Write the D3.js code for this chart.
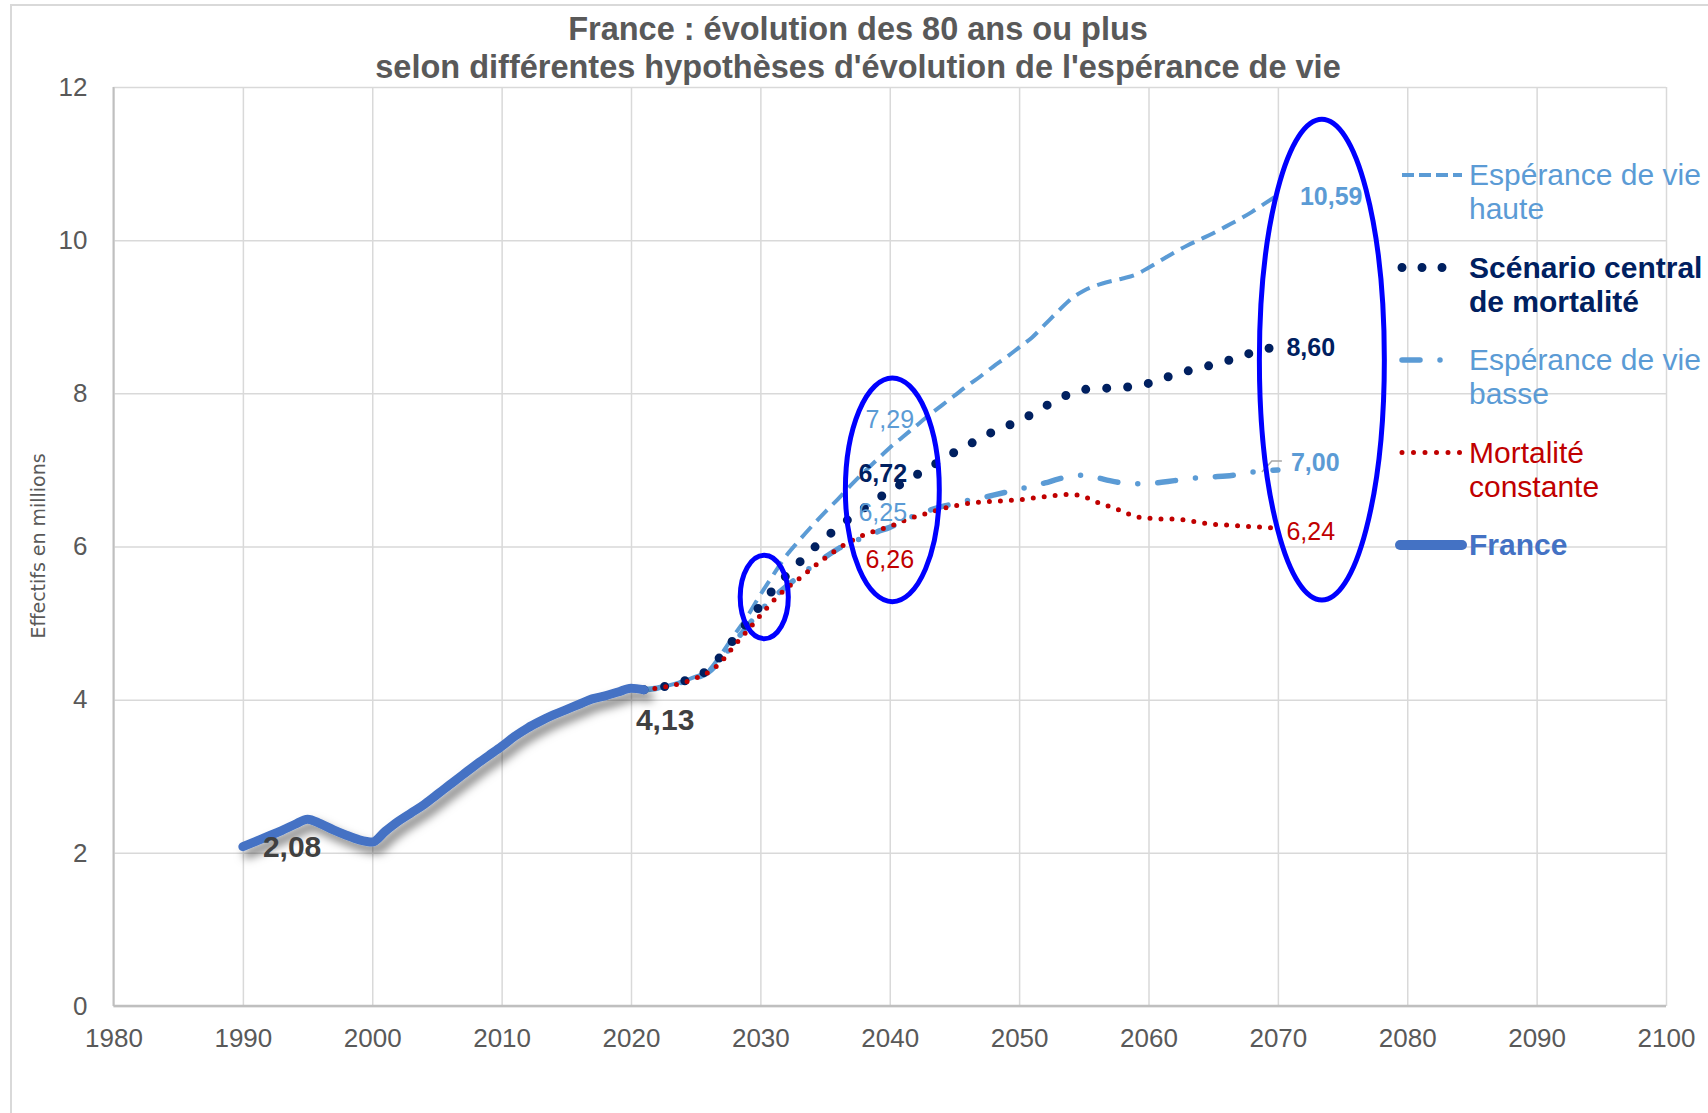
<!DOCTYPE html>
<html>
<head>
<meta charset="utf-8">
<script src="https://cdn.jsdelivr.net/npm/d3@7/dist/d3.min.js"></script>
<style>
	body { margin: 0; background: #fff; }
	svg text { font-family: "Liberation Sans", Arial, sans-serif; }
</style>
</head>
<body>
<div id="chart"></div>
<script>
// ---- data (millions of people aged 80+) ----
var franceStart = 1990;
var franceValues = [2.08, 2.15, 2.22, 2.29, 2.37, 2.44, 2.38, 2.30, 2.23, 2.17,
	2.14, 2.28, 2.41, 2.52, 2.63, 2.76, 2.89, 3.02, 3.15, 3.27,
	3.39, 3.52, 3.63, 3.72, 3.80, 3.87, 3.94, 4.01, 4.05, 4.10,
	4.15, 4.13];

var projStart = 2021;
var highValues = [4.13, 4.15, 4.19, 4.24, 4.30, 4.38, 4.60, 4.85, 5.09, 5.37,
	5.63, 5.88, 6.08, 6.27, 6.45, 6.62, 6.80, 6.97, 7.13, 7.29,
	7.43, 7.57, 7.71, 7.84, 7.97, 8.10, 8.22, 8.35, 8.47, 8.60,
	8.73, 8.90, 9.07, 9.23, 9.34, 9.41, 9.46, 9.50, 9.55, 9.64,
	9.74, 9.84, 9.93, 10.01, 10.09, 10.18, 10.27, 10.37, 10.48, 10.59];
var centralValues = [4.13, 4.15, 4.19, 4.24, 4.29, 4.40, 4.58, 4.80, 5.01, 5.23,
	5.44, 5.62, 5.79, 5.96, 6.11, 6.25, 6.38, 6.50, 6.62, 6.72,
	6.83, 6.93, 7.02, 7.13, 7.23, 7.32, 7.41, 7.50, 7.57, 7.64,
	7.73, 7.83, 7.92, 8.00, 8.05, 8.06, 8.07, 8.08, 8.09, 8.13,
	8.18, 8.25, 8.29, 8.34, 8.37, 8.42, 8.48, 8.53, 8.58, 8.60];
var lowValues = [4.13, 4.15, 4.19, 4.23, 4.28, 4.36, 4.53, 4.75, 4.96, 5.16,
	5.33, 5.48, 5.61, 5.74, 5.86, 5.97, 6.05, 6.12, 6.19, 6.25,
	6.33, 6.41, 6.47, 6.52, 6.56, 6.60, 6.63, 6.67, 6.71, 6.75,
	6.79, 6.83, 6.88, 6.92, 6.93, 6.90, 6.86, 6.83, 6.82, 6.82,
	6.84, 6.86, 6.88, 6.90, 6.91, 6.92, 6.94, 6.97, 6.99, 7.00];
var constantValues = [4.13, 4.15, 4.18, 4.22, 4.28, 4.36, 4.50, 4.71, 4.90, 5.10,
	5.29, 5.45, 5.58, 5.72, 5.85, 5.97, 6.07, 6.15, 6.21, 6.26,
	6.33, 6.39, 6.44, 6.49, 6.53, 6.56, 6.58, 6.59, 6.60, 6.61,
	6.63, 6.65, 6.67, 6.68, 6.65, 6.58, 6.52, 6.46, 6.39, 6.37,
	6.36, 6.36, 6.34, 6.31, 6.29, 6.28, 6.27, 6.26, 6.25, 6.24];

var xTicks = [1980, 1990, 2000, 2010, 2020, 2030, 2040, 2050, 2060, 2070, 2080, 2090, 2100];
var yTicks = [0, 2, 4, 6, 8, 10, 12];

var legendNames = [["Espérance de vie", "haute"], ["Scénario central", "de mortalité"],
	["Espérance de vie", "basse"], ["Mortalité", "constante"], ["France"]];

// highlighted zones (centre year / value, half-width in years, half-height in millions)
var ringYears = [2030.3, 2040.2, 2073.4];
var ringValues = [5.34, 6.74, 8.44];
var ringHalfYears = [1.86, 3.63, 4.83];
var ringHalfValues = [0.545, 1.46, 3.14];

function toPoints(start, values) {
	return values.map(function (v, i) { return { year: start + i, value: v }; });
}
var france = toPoints(franceStart, franceValues);
var high = toPoints(projStart, highValues);
var central = toPoints(projStart, centralValues);
var low = toPoints(projStart, lowValues);
var constant = toPoints(projStart, constantValues);

// ---- setup ----
var W = 1708, H = 1113;
var plotLeft = 113.5, plotRight = 1666, plotTop = 87, plotBottom = 1006;

var svg = d3.select("#chart").append("svg")
	.attr("width", W).attr("height", H)
	.style("display", "block");

svg.append("rect").attr("width", W).attr("height", H).attr("fill", "#fff");
svg.append("rect")
	.attr("x", 11).attr("y", 5).attr("width", W + 20).attr("height", H + 20)
	.attr("fill", "none").attr("stroke", "#d9d9d9").attr("stroke-width", 2);

var defs = svg.append("defs");
defs.append("filter").attr("id", "shadow")
	.attr("x", "-10%").attr("y", "-20%").attr("width", "130%").attr("height", "160%")
	.append("feDropShadow")
	.attr("dx", 5).attr("dy", 7).attr("stdDeviation", 5)
	.attr("flood-color", "#000").attr("flood-opacity", 0.5);

var x = d3.scaleLinear().domain([1980, 2100]).range([plotLeft, plotRight]);
var y = d3.scaleLinear().domain([0, 12]).range([plotBottom, plotTop]);

// title
var title = svg.append("text")
	.attr("x", 858).attr("text-anchor", "middle")
	.style("font-size", "32.5px").style("font-weight", "bold").attr("fill", "#595959");
title.append("tspan").attr("x", 858).attr("y", 40).text("France : évolution des 80 ans ou plus");
title.append("tspan").attr("x", 858).attr("y", 78).text("selon différentes hypothèses d'évolution de l'espérance de vie");

// ---- axes / gridlines ----
var xAxis = svg.append("g")
	.attr("transform", "translate(0," + plotBottom + ")")
	.call(d3.axisBottom(x).tickValues(xTicks).tickSize(-(plotBottom - plotTop)).tickPadding(22.5).tickFormat(d3.format("d")));
var yAxis = svg.append("g")
	.attr("transform", "translate(" + plotLeft + ",0)")
	.call(d3.axisLeft(y).tickValues(yTicks).tickSize(-(plotRight - plotLeft)).tickPadding(26));

[xAxis, yAxis].forEach(function (g) {
	g.select(".domain").remove();
	g.selectAll(".tick line").attr("stroke", "#d9d9d9").attr("stroke-width", 1.5);
	g.selectAll(".tick text")
		.attr("fill", "#595959")
		.style("font-size", "26px")
		.style("font-family", "'Liberation Sans', Arial, sans-serif");
});

svg.append("line")
	.attr("x1", plotLeft).attr("x2", plotLeft).attr("y1", plotTop).attr("y2", plotBottom)
	.attr("stroke", "#bfbfbf").attr("stroke-width", 2);
svg.append("line")
	.attr("x1", plotLeft).attr("x2", plotRight).attr("y1", plotBottom).attr("y2", plotBottom)
	.attr("stroke", "#bfbfbf").attr("stroke-width", 2.5);

svg.append("text")
	.attr("transform", "translate(38,546) rotate(-90)")
	.attr("text-anchor", "middle").attr("dy", "0.35em")
	.attr("textLength", 185).attr("lengthAdjust", "spacingAndGlyphs")
	.style("font-family", "'Liberation Sans Narrow', 'DejaVu Sans Condensed', sans-serif")
	.style("font-size", "20px").attr("fill", "#595959")
	.text("Effectifs en millions");

// ---- series ----
var line = d3.line()
	.x(function (d) { return x(d.year); })
	.y(function (d) { return y(d.value); })
	.curve(d3.curveMonotoneX);

var styles = {
	high: { color: "#5b9bd5", width: 4, dash: "15,8", cap: "butt" },
	central: { color: "#002060", width: 9, dash: "0,21", cap: "round" },
	low: { color: "#5b9bd5", width: 5.5, dash: "18,20,0,20", cap: "round" },
	constant: { color: "#c00000", width: 5, dash: "0,11", cap: "round" },
	france: { color: "#4472c4", width: 9, dash: null, cap: "round" }
};

function drawSeries(data, st) {
	var p = svg.append("path").datum(data)
		.attr("d", line)
		.attr("fill", "none")
		.attr("stroke", st.color)
		.attr("stroke-width", st.width)
		.attr("stroke-linecap", st.cap)
		.attr("stroke-linejoin", "round");
	if (st.dash) p.attr("stroke-dasharray", st.dash);
	return p;
}

drawSeries(high, styles.high);
drawSeries(low, styles.low);
drawSeries(central, styles.central);
drawSeries(constant, styles.constant);
drawSeries(france, styles.france).attr("filter", "url(#shadow)");

// ---- data labels ----
function fmt(v) { return v.toFixed(2).replace(".", ","); }
function valueAt(series, yr) {
	return series.filter(function (d) { return d.year === yr; })[0];
}

var labels = [
	{ s: france, yr: 1990, dx: 20, dy: 10, anchor: "start", color: "#404040", bold: true, size: 30 },
	{ s: france, yr: 2021, dx: -8, dy: 40, anchor: "start", color: "#404040", bold: true, size: 30 },
	{ s: high, yr: 2040, dx: 0, dy: -20, anchor: "middle", color: "#5b9bd5", bold: false, size: 25 },
	{ s: central, yr: 2040, dx: -7, dy: -9, anchor: "middle", color: "#002060", bold: true, size: 25 },
	{ s: low, yr: 2040, dx: -7, dy: -6, anchor: "middle", color: "#5b9bd5", bold: false, size: 25 },
	{ s: constant, yr: 2040, dx: 0, dy: 41, anchor: "middle", color: "#c00000", bold: false, size: 25 },
	{ s: high, yr: 2070, dx: 22, dy: 10, anchor: "start", color: "#5b9bd5", bold: true, size: 25 },
	{ s: central, yr: 2070, dx: 8.5, dy: 9, anchor: "start", color: "#002060", bold: true, size: 25 },
	{ s: low, yr: 2070, dx: 13, dy: 1, anchor: "start", color: "#5b9bd5", bold: true, size: 25 },
	{ s: constant, yr: 2070, dx: 8.5, dy: 12, anchor: "start", color: "#c00000", bold: false, size: 25 }
];

labels.forEach(function (l) {
	var pt = valueAt(l.s, l.yr);
	svg.append("text")
		.attr("x", x(pt.year) + l.dx)
		.attr("y", y(pt.value) + l.dy)
		.attr("text-anchor", l.anchor)
		.attr("fill", l.color)
		.style("font-size", l.size + "px")
		.style("font-weight", l.bold ? "bold" : "normal")
		.text(fmt(pt.value));
});

// leader line for the "basse" end label
var lowEnd = valueAt(low, 2070);
var lx = x(lowEnd.year), ly = y(lowEnd.value);
svg.append("path")
	.attr("d", "M" + (lx - 16) + "," + (ly + 2) + "L" + (lx - 6) + "," + (ly - 9) + "L" + (lx + 4) + "," + (ly - 9))
	.attr("fill", "none").attr("stroke", "#a6a6a6").attr("stroke-width", 1.5);

// ---- highlight ellipses ----
ringYears.forEach(function (yr, i) {
	svg.append("ellipse")
		.attr("cx", x(yr)).attr("cy", y(ringValues[i]))
		.attr("rx", x(yr + ringHalfYears[i]) - x(yr))
		.attr("ry", y(ringValues[i] - ringHalfValues[i]) - y(ringValues[i]))
		.attr("fill", "none").attr("stroke", "#0000ff").attr("stroke-width", 5);
});

// ---- legend ----
var legendStyles = [styles.high, styles.central, styles.low, styles.constant, styles.france];
var legendBold = [false, true, false, false, true];
var legendEnds = [62, 43, 43, 62, 62];
var legendDash = ["12,5", "0,20", "18,20,0,20", "0,11.5", null];
var legendX = 1400, legendTextX = 1469, legendTop = 185, legendStep = 92.5;

legendNames.forEach(function (lines, i) {
	var st = legendStyles[i];
	var by = legendTop + i * legendStep;
	var ln = svg.append("line")
		.attr("x1", legendX + (i === 4 ? 0 : 2)).attr("x2", legendX + legendEnds[i])
		.attr("y1", by - 10).attr("y2", by - 10)
		.attr("stroke", st.color)
		.attr("stroke-width", i === 4 ? 10 : st.width)
		.attr("stroke-linecap", st.cap);
	if (legendDash[i]) ln.attr("stroke-dasharray", legendDash[i]);

	var t = svg.append("text")
		.attr("fill", st.color)
		.style("font-size", "30px")
		.style("font-weight", legendBold[i] ? "bold" : "normal");
	lines.forEach(function (s, j) {
		t.append("tspan").attr("x", legendTextX).attr("y", by + j * 34).text(s);
	});
});
</script>
</body>
</html>
